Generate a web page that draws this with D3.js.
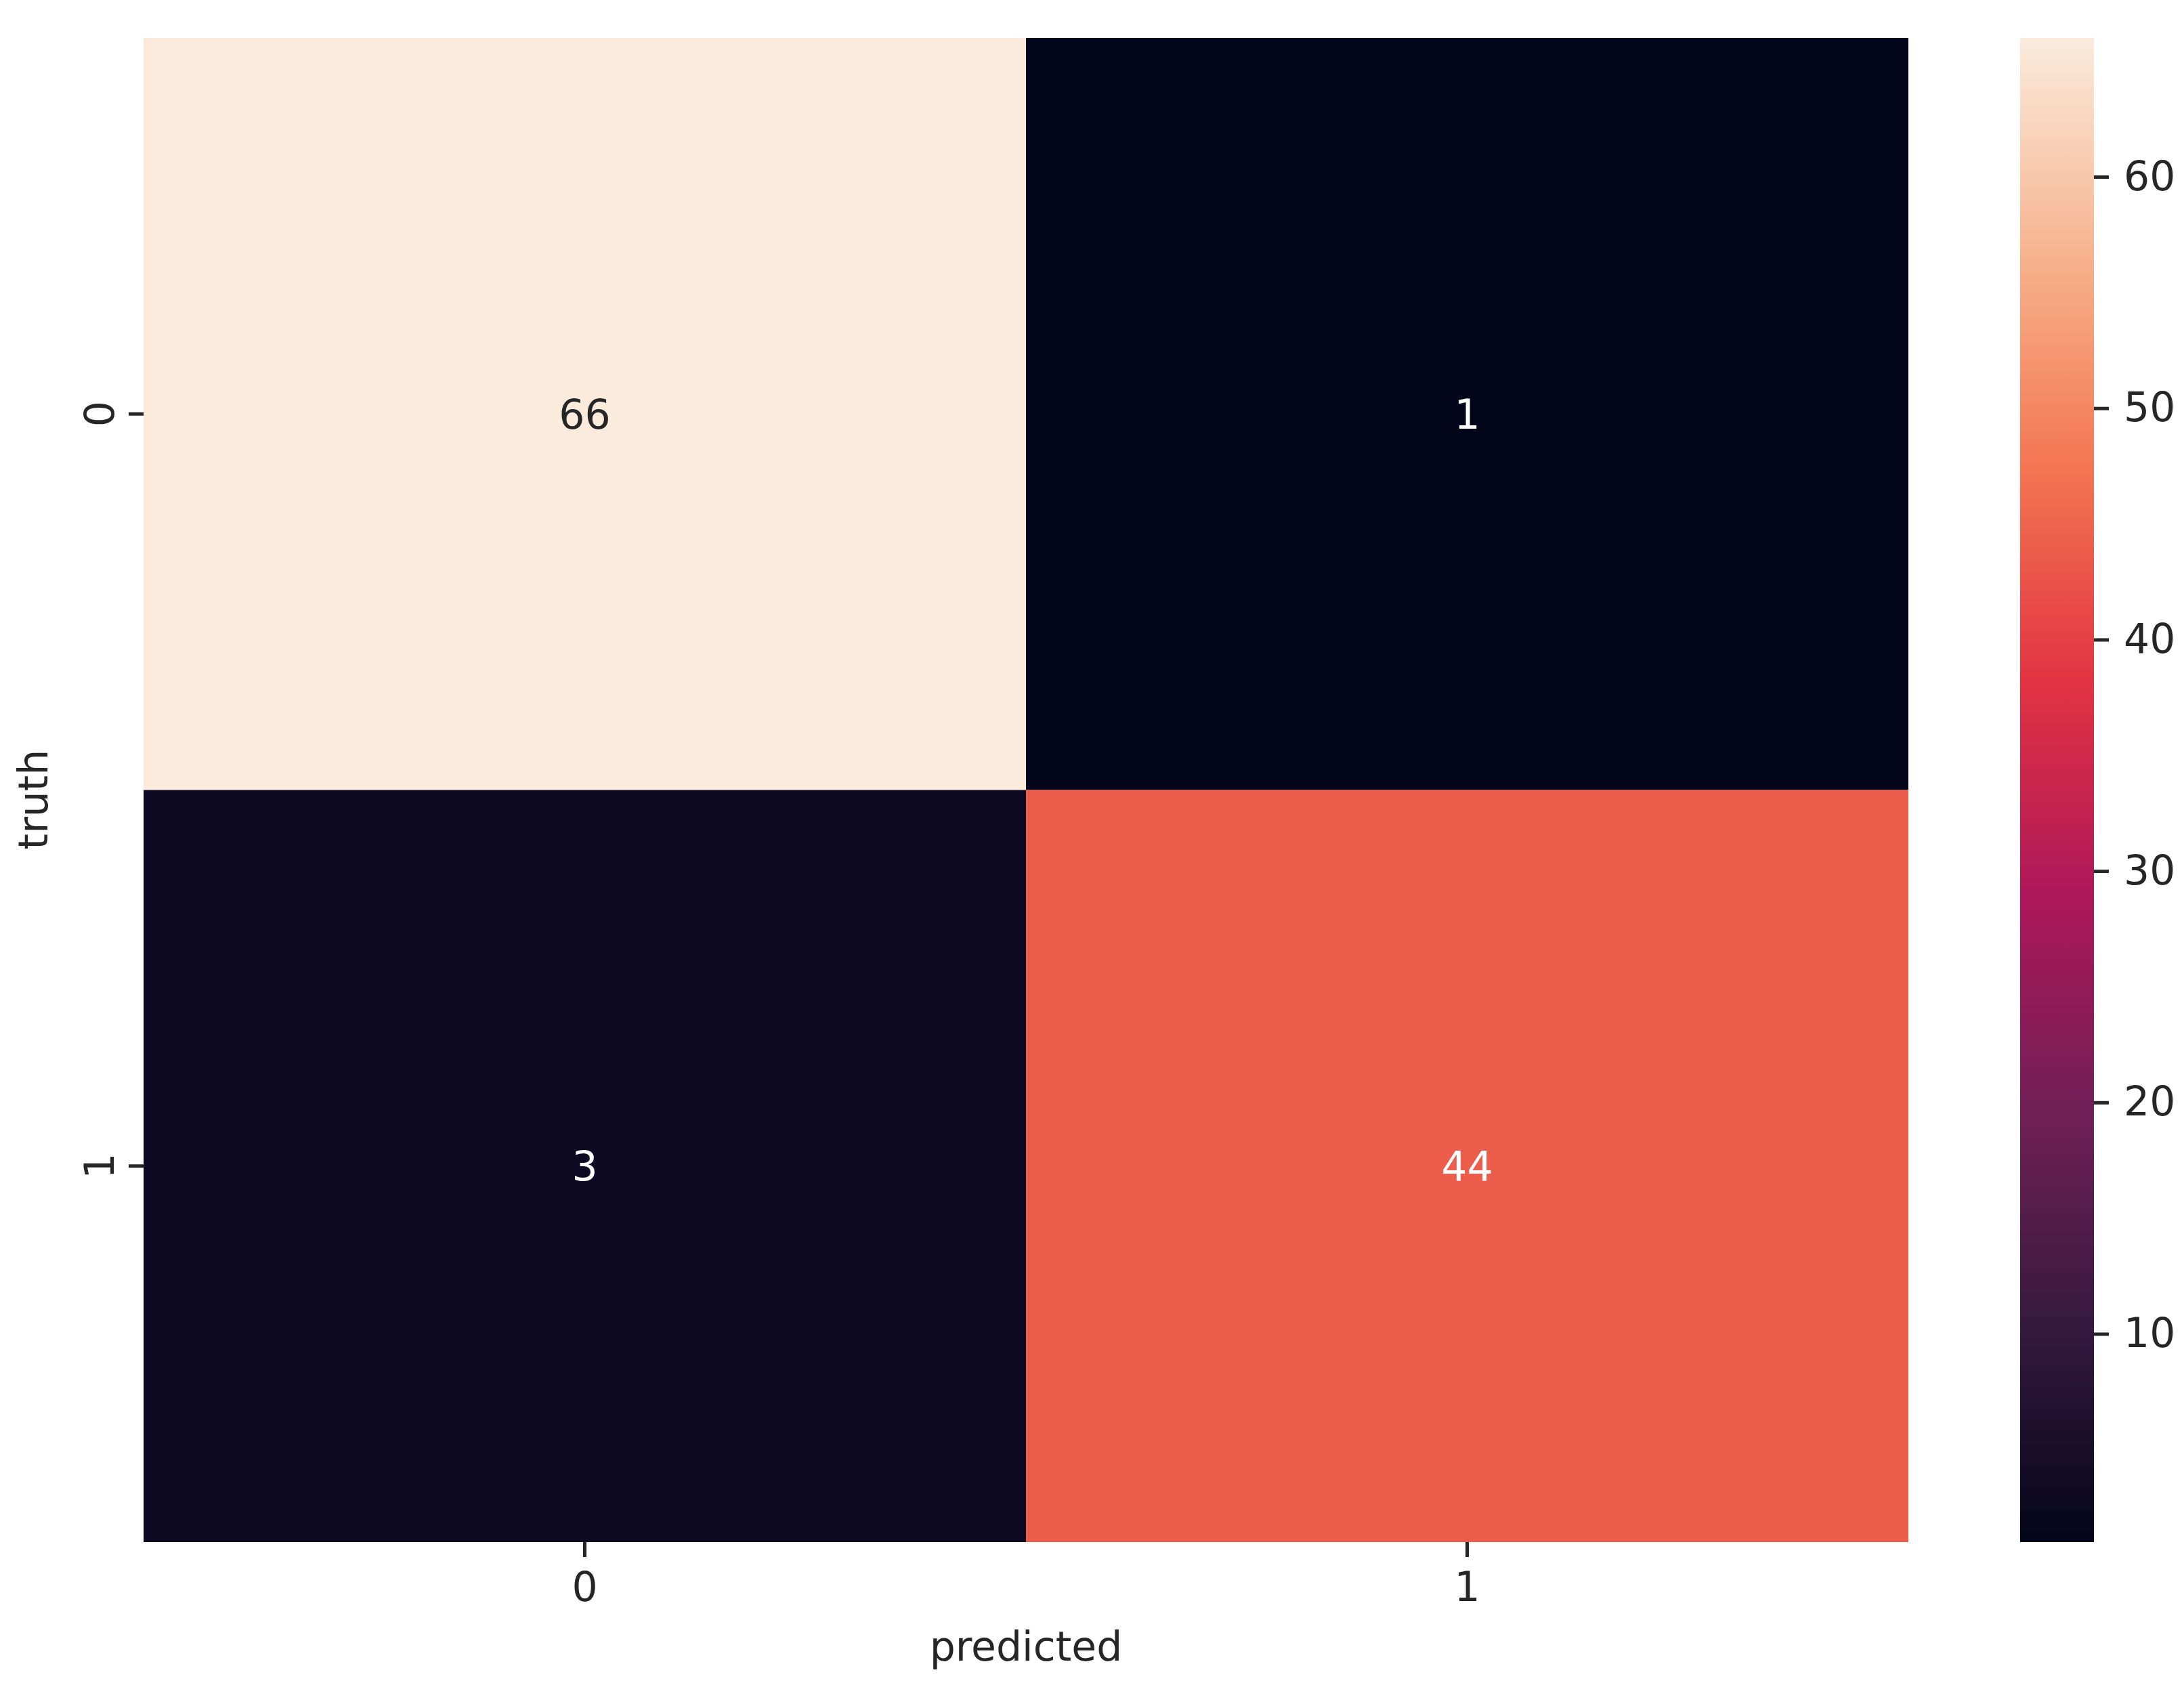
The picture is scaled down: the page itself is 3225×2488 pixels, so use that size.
<!DOCTYPE html>
<html>
<head>
<meta charset="utf-8">
<script src="https://cdn.jsdelivr.net/npm/d3@7"></script>
<style>
  body { margin: 0; background: #fff; }
  svg text { font-family: "DejaVu Sans", sans-serif; }
</style>
</head>
<body>
<div class="chart"></div>
<script>
// confusion matrix values
const truthLabels = ["0", "1"];
const predictedLabels = ["0", "1"];
const counts = [
  [66, 1],
  [3, 44]
];
const colorbarTicks = [10, 20, 30, 40, 50, 60];

// rocket colormap key colours
const rocketStops = ["#03051a", "#35193e", "#701f57", "#ad1759", "#e13342", "#f37651", "#f6b48f", "#faebdd"];
const rocketPos = [0, 1/7, 2/7, 3/7, 4/7, 5/7, 6/7, 1];

const width = 3225;
const height = 2488;
const fontSize = 60;
const tickLen = 22;
const tickPad = 22;
const ink = "#262626";

const plot = { left: 212, right: 2818, top: 56, bottom: 2277 };
const bar = { left: 2983, right: 3092 };

const cells = [];
counts.forEach((row, i) => row.forEach((v, j) => {
  cells.push({ truth: truthLabels[i], predicted: predictedLabels[j], value: v });
}));

const vMin = d3.min(cells, d => d.value);
const vMax = d3.max(cells, d => d.value);

const rocket = d3.scaleLinear()
  .domain(rocketPos)
  .range(rocketStops)
  .interpolate(d3.interpolateRgb);

const color = v => rocket((v - vMin) / (vMax - vMin));

// relative luminance, same rule seaborn uses to pick annotation colour
const luminance = c => {
  const rgb = d3.rgb(c);
  const lin = [rgb.r, rgb.g, rgb.b].map(u => {
    u = u / 255;
    return u <= 0.03928 ? u / 12.92 : Math.pow((u + 0.055) / 1.055, 2.4);
  });
  return 0.2126 * lin[0] + 0.7152 * lin[1] + 0.0722 * lin[2];
};

const svg = d3.select(".chart").append("svg")
  .attr("width", width)
  .attr("height", height);

let x = d3.scaleBand()
  .domain(predictedLabels)
  .range([plot.left, plot.right]);

let y = d3.scaleBand()
  .domain(truthLabels)
  .range([plot.top, plot.bottom]);

svg.append("g")
  .selectAll("rect")
  .data(cells)
  .join("rect")
  .attr("x", d => x(d.predicted))
  .attr("y", d => y(d.truth))
  .attr("width", x.bandwidth())
  .attr("height", y.bandwidth())
  .attr("fill", d => color(d.value));

svg.append("g")
  .selectAll("text")
  .data(cells)
  .join("text")
  .attr("x", d => x(d.predicted) + x.bandwidth() / 2)
  .attr("y", d => y(d.truth) + y.bandwidth() / 2)
  .attr("dy", "0.36em")
  .attr("text-anchor", "middle")
  .style("font-size", fontSize + "px")
  .attr("fill", d => luminance(color(d.value)) > 0.408 ? ink : "#ffffff")
  .text(d => d.value);

const xAxis = svg.append("g")
  .attr("transform", "translate(0," + plot.bottom + ")")
  .call(d3.axisBottom(x).tickSize(tickLen).tickPadding(tickPad));

const yAxis = svg.append("g")
  .attr("transform", "translate(" + plot.left + ",0)")
  .call(d3.axisLeft(y).tickSize(tickLen).tickPadding(tickPad));

yAxis.selectAll(".tick text")
  .attr("x", null)
  .attr("dy", "0em")
  .attr("text-anchor", "middle")
  .attr("transform", "translate(" + (-(tickLen + tickPad)) + ",0) rotate(-90)");

// colour bar
const cScale = d3.scaleLinear()
  .domain([vMin, vMax])
  .range([plot.bottom, plot.top]);

const grad = svg.append("defs").append("linearGradient")
  .attr("id", "rocket-grad")
  .attr("x1", 0).attr("y1", 1)
  .attr("x2", 0).attr("y2", 0);

grad.selectAll("stop")
  .data(rocketPos)
  .join("stop")
  .attr("offset", d => d)
  .attr("stop-color", (d, i) => rocketStops[i]);

svg.append("rect")
  .attr("x", bar.left)
  .attr("y", plot.top)
  .attr("width", bar.right - bar.left)
  .attr("height", plot.bottom - plot.top)
  .attr("fill", "url(#rocket-grad)");

const cAxis = svg.append("g")
  .attr("transform", "translate(" + bar.right + ",0)")
  .call(d3.axisRight(cScale).tickValues(colorbarTicks).tickSize(tickLen).tickPadding(tickPad));

[xAxis, yAxis, cAxis].forEach(a => {
  a.select(".domain").remove();
  a.selectAll(".tick line").attr("stroke", ink).attr("stroke-width", 5);
  a.selectAll(".tick text")
    .attr("fill", ink)
    .style("font-size", fontSize + "px")
    .style("font-family", "DejaVu Sans, sans-serif");
});

svg.append("text")
  .attr("x", (plot.left + plot.right) / 2)
  .attr("y", 2452)
  .attr("text-anchor", "middle")
  .attr("fill", ink)
  .style("font-size", fontSize + "px")
  .text("predicted");

svg.append("text")
  .attr("transform", "translate(70," + ((plot.top + plot.bottom) / 2 + 14) + ") rotate(-90)")
  .attr("text-anchor", "middle")
  .attr("fill", ink)
  .style("font-size", fontSize + "px")
  .text("truth");
</script>
</body>
</html>
